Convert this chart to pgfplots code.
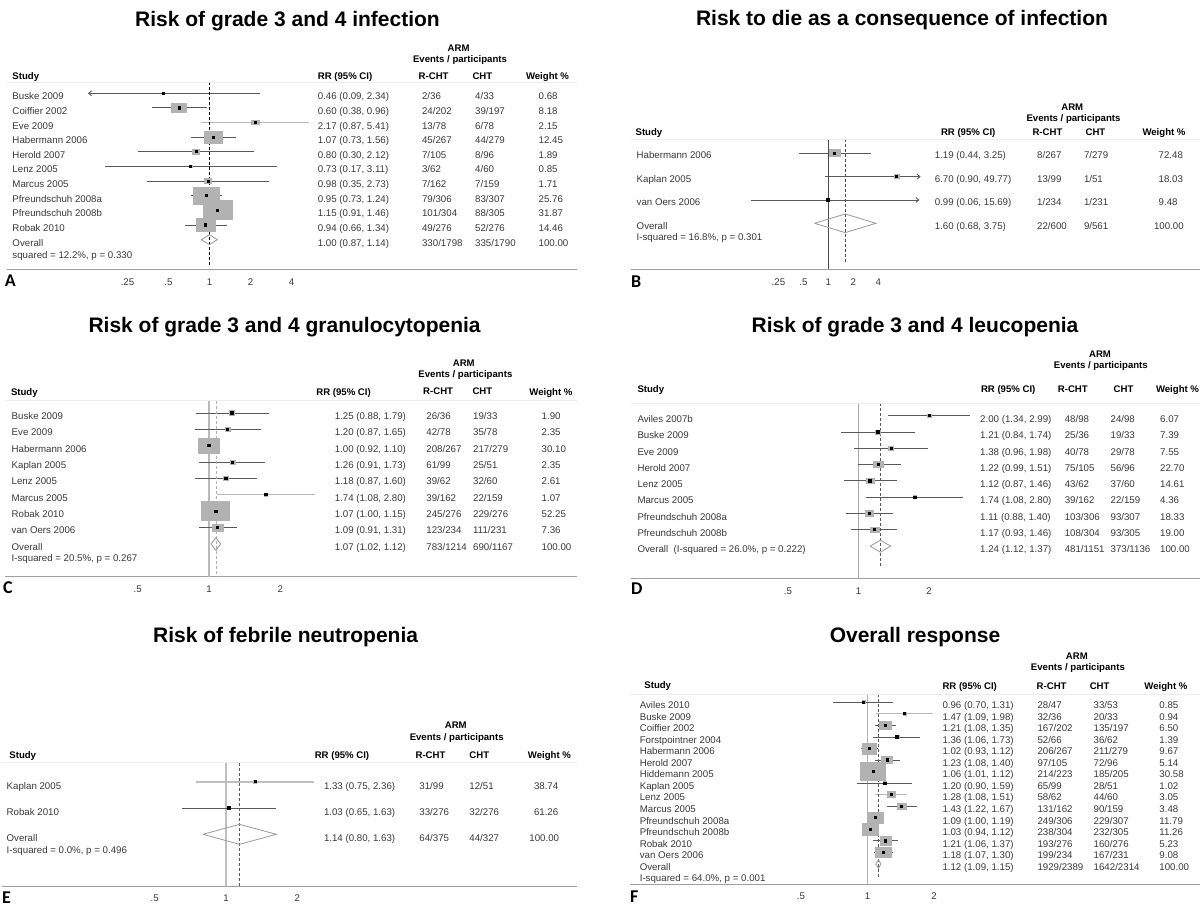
\documentclass[border=0pt]{standalone}
\usepackage{fontspec}
\setmainfont{Liberation Sans}
\newfontfamily\letterfont{Carlito}
\usepackage{pgfplots}
\pgfplotsset{compat=1.18}
\usetikzlibrary{arrows.meta}
\definecolor{txt}{gray}{0.22}
\definecolor{boxgray}{gray}{0.70}
\definecolor{cigray}{gray}{0.35}
\tikzset{
  tx/.style={anchor=west, inner sep=0pt, text height=6.9pt, text depth=0pt, font=\fontsize{9.7}{11}\selectfont, text=txt},
  hd/.style={tx, font=\fontsize{9.6}{11}\selectfont\bfseries, text=black},
  hdc/.style={hd, anchor=center},
  ttl/.style={anchor=base, inner sep=0pt, font=\fontsize{21}{25}\selectfont\bfseries},
  plet/.style={anchor=west, inner sep=0pt, text height=11.6pt, text depth=0pt, font=\letterfont\fontsize{18}{20}\selectfont\bfseries},
  cil/.style={draw=cigray, line width=0.9pt},
  arr/.style={-{Straight Barb[length=3pt,width=5pt]}},
  hline/.style={draw=gray!15, line width=1pt},
  ticklab/.style={anchor=center, yshift=-12.5pt, inner sep=0pt, text height=6.9pt, text depth=0pt, font=\fontsize{9.7}{11}\selectfont, text=txt}
}
% #1 line opts, #2 est, #3 lo, #4 hi, #5 y, #6 half width, #7 half height
\newcommand\study[7][]{%
  \addplot[boxgray, only marks, mark=square*, mark size=#7pt, mark options={xscale=#6/#7, fill=boxgray, draw=boxgray, line width=0pt}] coordinates {(#2,#5)};
  \addplot[cil,#1] coordinates {(#3,#5) (#4,#5)};
  \addplot[black, only marks, mark=square*, mark size=1.1pt, mark options={fill=black, draw=black, line width=0pt}] coordinates {(#2,#5)};
}
\newcommand\trow[6]{%
  \node[tx] at (\cN pt,-#1pt) {#2};
  \node[tx] at (\cR pt,-#1pt) {#3};
  \node[tx] at (\cA pt,-#1pt) {#4};
  \node[tx] at (\cB pt,-#1pt) {#5};
  \node[tx] at (\cW pt,-#1pt) {#6};}
\begin{document}
\begin{tikzpicture}
\useasboundingbox (0,0) rectangle (1200pt,-910pt);

%%%%%%%%%%%%%%%% Panel A
\begin{axis}[scale only axis, xmode=log, axis x line*=bottom, axis y line=none, anchor=south west,
  x axis line style={draw=gray!75, line width=1pt}, tick style={draw=none}, xticklabel style={ticklab},
  at={(7pt,-269.3pt)}, width=570pt, height=187pt, xmin=0.0326, xmax=499, ymin=-13.022, ymax=-0.2486,
  xtick={0.25,0.5,1,2,4}, xticklabels={.25,.5,1,2,4}]
\study{0.60}{0.38}{0.96}{-2}{7.5}{4.85}
\study[draw=gray!55, line width=1.3pt]{2.17}{0.87}{5.41}{-3}{4}{2.35}
\study{1.07}{0.73}{1.56}{-4}{9.15}{6.15}
\study{0.80}{0.30}{2.12}{-5}{3.65}{2.15}
\study{0.73}{0.17}{3.11}{-6}{1.85}{1.35}
\study{0.98}{0.35}{2.73}{-7}{3.5}{2.15}
\study{0.95}{0.73}{1.24}{-8}{13}{8.5}
\study{1.15}{0.91}{1.46}{-9}{14.35}{9.5}
\study{0.94}{0.66}{1.34}{-10}{9.65}{6.5}
\study[arr]{0.46}{2.34}{0.128}{-1}{1}{1}
\addplot[black, line width=0.8pt, dash pattern=on 3pt off 2pt] coordinates {(1,-0.2486) (1,-12.8)};
\addplot[draw=gray!80, line width=0.8pt] coordinates {(0.87,-11) (1.00,-10.66) (1.14,-11) (1.00,-11.34) (0.87,-11)};
\end{axis}
\draw[hline] (7pt,-82.3pt) -- (577pt,-82.3pt);
\node[ttl] at (287.5pt,-26.5pt) {Risk of grade 3 and 4 infection};
\node[hdc] at (458.6pt,-47.7pt) {ARM};
\node[hdc] at (460pt,-59.3pt) {Events / participants};
\node[hd] at (12.3pt,-76pt) {Study};
\node[hd] at (317.7pt,-76pt) {RR (95\% CI)};
\node[hd] at (418.5pt,-76pt) {R-CHT};
\node[hd] at (472.3pt,-76pt) {CHT};
\node[hd] at (525.8pt,-76pt) {Weight \%};
\def\cN{12.3}\def\cR{317.7}\def\cA{421.9}\def\cB{475}\def\cW{538.5}
\trow{96.3}{Buske 2009}{0.46 (0.09, 2.34)}{2/36}{4/33}{0.68}
\trow{110.9}{Coiffier 2002}{0.60 (0.38, 0.96)}{24/202}{39/197}{8.18}
\trow{125.6}{Eve 2009}{2.17 (0.87, 5.41)}{13/78}{6/78}{2.15}
\trow{140.2}{Habermann 2006}{1.07 (0.73, 1.56)}{45/267}{44/279}{12.45}
\trow{154.9}{Herold 2007}{0.80 (0.30, 2.12)}{7/105}{8/96}{1.89}
\trow{169.5}{Lenz 2005}{0.73 (0.17, 3.11)}{3/62}{4/60}{0.85}
\trow{184.1}{Marcus 2005}{0.98 (0.35, 2.73)}{7/162}{7/159}{1.71}
\trow{198.8}{Pfreundschuh 2008a}{0.95 (0.73, 1.24)}{79/306}{83/307}{25.76}
\trow{213.4}{Pfreundschuh 2008b}{1.15 (0.91, 1.46)}{101/304}{88/305}{31.87}
\trow{228.1}{Robak 2010}{0.94 (0.66, 1.34)}{49/276}{52/276}{14.46}
\trow{242.7}{Overall}{1.00 (0.87, 1.14)}{330/1798}{335/1790}{100.00}
\node[tx] at (12.3pt,-254.7pt) {squared = 12.2\%, p = 0.330};
\node[plet] at (4.6pt,-281pt) {A};

%%%%%%%%%%%%%%%% Panel B
\begin{axis}[scale only axis, xmode=log, axis x line*=bottom, axis y line=none, anchor=south west,
  x axis line style={draw=gray!75, line width=1pt}, tick style={draw=none}, xticklabel style={ticklab},
  at={(631pt,-269.3pt)}, width=569pt, height=130pt, xmin=0.004163, xmax=30530, ymin=-5.972, ymax=-0.400,
  xtick={0.25,0.5,1,2,4}, xticklabels={.25,.5,1,2,4}]
\study{1.19}{0.44}{3.25}{-1}{5.5}{3.65}
\study[arr]{6.70}{0.90}{13.0}{-2}{2.35}{1.85}
\study[arr]{0.99}{0.116}{12.6}{-3}{1}{1}
\addplot[gray!60!black, line width=0.9pt] coordinates {(1,-0.4) (1,-5.972)};
\addplot[gray!60!black, line width=0.7pt, dash pattern=on 3pt off 2pt] coordinates {(1.60,-0.4) (1.60,-5.646)};
\addplot[draw=gray!80, line width=0.8pt] coordinates {(0.68,-4) (1.60,-3.6) (3.75,-4) (1.60,-4.4) (0.68,-4)};
\end{axis}
\draw[hline] (631pt,-139.3pt) -- (1200pt,-139.3pt);
\node[ttl] at (902pt,-25pt) {Risk to die as a consequence of infection};
\node[hdc] at (1072.3pt,-106.7pt) {ARM};
\node[hdc] at (1073.5pt,-118pt) {Events / participants};
\node[hd] at (635.4pt,-132.3pt) {Study};
\node[hd] at (940.8pt,-132.3pt) {RR (95\% CI)};
\node[hd] at (1032.3pt,-132.3pt) {R-CHT};
\node[hd] at (1085.4pt,-132.3pt) {CHT};
\node[hd] at (1142.3pt,-132.3pt) {Weight \%};
\def\cN{636.5}\def\cR{934.6}\def\cA{1037}\def\cB{1083.8}\def\cW{1158.5}
\trow{155.3}{Habermann 2006}{1.19 (0.44, 3.25)}{8/267}{7/279}{72.48}
\trow{179}{Kaplan 2005}{6.70 (0.90, 49.77)}{13/99}{1/51}{18.03}
\trow{202.3}{van Oers 2006}{0.99 (0.06, 15.69)}{1/234}{1/231}{9.48}
\def\cW{1153.8}
\trow{225.7}{Overall}{1.60 (0.68, 3.75)}{22/600}{9/561}{100.00}
\node[tx] at (636.5pt,-237.3pt) {I-squared = 16.8\%, p = 0.301};
\node[plet] at (631pt,-282pt) {B};

%%%%%%%%%%%%%%%% Panel C
\begin{axis}[scale only axis, xmode=log, axis x line*=bottom, axis y line=none, anchor=south west,
  x axis line style={draw=gray!75, line width=1pt}, tick style={draw=none}, xticklabel style={ticklab},
  at={(4.6pt,-576.7pt)}, width=572.4pt, height=176pt, xmin=0.1371, xmax=35.78, ymin=-10.997, ymax=-0.2489,
  xtick={0.5,1,2}, xticklabels={.5,1,2}]
\addplot[gray!55, line width=1.5pt] coordinates {(1,-0.2489) (1,-10.997)};
\study{1.25}{0.88}{1.79}{-1}{2.65}{2.15}
\study{1.20}{0.87}{1.65}{-2}{2.5}{2}
\study{1.00}{0.92}{1.10}{-3}{10.85}{7.35}
\study{1.26}{0.91}{1.73}{-4}{2.65}{2}
\study{1.18}{0.87}{1.60}{-5}{2.65}{2.15}
\study[draw=gray!55]{1.74}{1.08}{2.80}{-6}{1.85}{1.5}
\study{1.07}{1.00}{1.15}{-7}{14}{9.35}
\study{1.09}{0.91}{1.31}{-8}{5.5}{3.5}
\addplot[gray!60, line width=0.7pt, dash pattern=on 3pt off 2pt] coordinates {(1.07,-0.2489) (1.07,-10.997)};
\addplot[draw=gray!80, line width=0.8pt] coordinates {(1.02,-9) (1.07,-8.615) (1.12,-9) (1.07,-9.385) (1.02,-9)};
\end{axis}
\draw[hline] (4.6pt,-400.7pt) -- (577pt,-400.7pt);
\node[ttl] at (284.6pt,-332.3pt) {Risk of grade 3 and 4 granulocytopenia};
\node[hdc] at (463.8pt,-362.7pt) {ARM};
\node[hdc] at (465.4pt,-374pt) {Events / participants};
\node[hd] at (10.8pt,-391.7pt) {Study};
\node[hd] at (316.2pt,-391.7pt) {RR (95\% CI)};
\node[hd] at (423pt,-390.7pt) {R-CHT};
\node[hd] at (472.3pt,-390.7pt) {CHT};
\node[hd] at (529.2pt,-391.7pt) {Weight \%};
\def\cN{11.5}\def\cR{334.6}\def\cA{426.2}\def\cB{473}\def\cW{541.5}
\trow{416}{Buske 2009}{1.25 (0.88, 1.79)}{26/36}{19/33}{1.90}
\trow{432.3}{Eve 2009}{1.20 (0.87, 1.65)}{42/78}{35/78}{2.35}
\trow{448.7}{Habermann 2006}{1.00 (0.92, 1.10)}{208/267}{217/279}{30.10}
\trow{465}{Kaplan 2005}{1.26 (0.91, 1.73)}{61/99}{25/51}{2.35}
\trow{481.3}{Lenz 2005}{1.18 (0.87, 1.60)}{39/62}{32/60}{2.61}
\trow{497.7}{Marcus 2005}{1.74 (1.08, 2.80)}{39/162}{22/159}{1.07}
\trow{514.3}{Robak 2010}{1.07 (1.00, 1.15)}{245/276}{229/276}{52.25}
\trow{530.3}{van Oers 2006}{1.09 (0.91, 1.31)}{123/234}{111/231}{7.36}
\trow{546.7}{Overall}{1.07 (1.02, 1.12)}{783/1214}{690/1167}{100.00}
\node[tx] at (11.5pt,-558.3pt) {I-squared = 20.5\%, p = 0.267};
\node[plet] at (3pt,-588pt) {C};

%%%%%%%%%%%%%%%% Panel D
\begin{axis}[scale only axis, xmode=log, axis x line*=bottom, axis y line=none, anchor=south west,
  x axis line style={draw=gray!75, line width=1pt}, tick style={draw=none}, xticklabel style={ticklab},
  at={(630.8pt,-578.3pt)}, width=569.2pt, height=175pt, xmin=0.1069, xmax=28.58, ymin=-10.969, ymax=-0.2397,
  xtick={0.5,1,2}, xticklabels={.5,1,2}]
\addplot[gray!70, line width=1pt] coordinates {(1,-0.2397) (1,-10.969)};
\study{2.00}{1.34}{2.99}{-1}{2}{1.65}
\study{1.21}{0.84}{1.74}{-2}{2.35}{2}
\study{1.38}{0.96}{1.98}{-3}{2.35}{2}
\study{1.22}{0.99}{1.51}{-4}{4.85}{3}
\study{1.12}{0.87}{1.46}{-5}{4}{2.5}
\study{1.74}{1.08}{2.80}{-6}{1.85}{1.5}
\study{1.11}{0.88}{1.40}{-7}{4.15}{2.65}
\study{1.17}{0.93}{1.46}{-8}{4.5}{2.65}
\addplot[gray!70!black, line width=0.7pt, dash pattern=on 3pt off 2pt] coordinates {(1.24,-0.2397) (1.24,-10.2)};
\addplot[draw=gray!80, line width=0.8pt] coordinates {(1.12,-9) (1.24,-8.632) (1.37,-9) (1.24,-9.368) (1.12,-9)};
\end{axis}
\draw[hline] (630.8pt,-403.3pt) -- (1200pt,-403.3pt);
\node[ttl] at (915pt,-332.3pt) {Risk of grade 3 and 4 leucopenia};
\node[hdc] at (1100pt,-354pt) {ARM};
\node[hdc] at (1100.8pt,-365.3pt) {Events / participants};
\node[hd] at (637.3pt,-389pt) {Study};
\node[hd] at (980.8pt,-389pt) {RR (95\% CI)};
\node[hd] at (1057.7pt,-389pt) {R-CHT};
\node[hd] at (1113.5pt,-389pt) {CHT};
\node[hd] at (1155.8pt,-389pt) {Weight \%};
\def\cN{637.3}\def\cR{980}\def\cA{1064.6}\def\cB{1110.4}\def\cW{1160}
\trow{419}{Aviles 2007b}{2.00 (1.34, 2.99)}{48/98}{24/98}{6.07}
\trow{435.3}{Buske 2009}{1.21 (0.84, 1.74)}{25/36}{19/33}{7.39}
\trow{451.7}{Eve 2009}{1.38 (0.96, 1.98)}{40/78}{29/78}{7.55}
\trow{467.7}{Herold 2007}{1.22 (0.99, 1.51)}{75/105}{56/96}{22.70}
\trow{484}{Lenz 2005}{1.12 (0.87, 1.46)}{43/62}{37/60}{14.61}
\trow{500.3}{Marcus 2005}{1.74 (1.08, 2.80)}{39/162}{22/159}{4.36}
\trow{516.7}{Pfreundschuh 2008a}{1.11 (0.88, 1.40)}{103/306}{93/307}{18.33}
\trow{533}{Pfreundschuh 2008b}{1.17 (0.93, 1.46)}{108/304}{93/305}{19.00}
\trow{549.3}{Overall\ \ (I-squared = 26.0\%, p = 0.222)}{1.24 (1.12, 1.37)}{481/1151}{373/1136}{100.00}
\node[plet] at (631pt,-589pt) {D};

%%%%%%%%%%%%%%%% Panel E
\begin{axis}[scale only axis, xmode=log, axis x line*=bottom, axis y line=none, anchor=south west,
  x axis line style={draw=gray!75, line width=1pt}, tick style={draw=none}, xticklabel style={ticklab},
  at={(2pt,-886pt)}, width=575pt, height=123.3pt, xmin=0.1135, xmax=30.25, ymin=-4.966, ymax=-0.2776,
  xtick={0.5,1,2}, xticklabels={.5,1,2}]
\addplot[gray!50, line width=1.8pt] coordinates {(1,-0.2776) (1,-4.966)};
\study[draw=gray!50, line width=1.6pt]{1.33}{0.75}{2.36}{-1}{1.5}{1.3}
\study{1.03}{0.65}{1.63}{-2}{1.5}{1.3}
\addplot[gray!70!black, line width=0.7pt, dash pattern=on 3pt off 2pt] coordinates {(1.14,-0.2776) (1.14,-4.966)};
\addplot[draw=gray!80, line width=0.8pt] coordinates {(0.80,-3) (1.14,-2.62) (1.63,-3) (1.14,-3.38) (0.80,-3)};
\end{axis}
\draw[hline] (2pt,-762.7pt) -- (577pt,-762.7pt);
\node[ttl] at (285.6pt,-642.3pt) {Risk of febrile neutropenia};
\node[hdc] at (455.8pt,-725pt) {ARM};
\node[hdc] at (456.7pt,-736.7pt) {Events / participants};
\node[hd] at (9.2pt,-754.7pt) {Study};
\node[hd] at (314.6pt,-754.7pt) {RR (95\% CI)};
\node[hd] at (415.4pt,-754.7pt) {R-CHT};
\node[hd] at (469.2pt,-754.7pt) {CHT};
\node[hd] at (527.7pt,-754.7pt) {Weight \%};
\def\cN{6.5}\def\cR{323.8}\def\cA{419.2}\def\cB{469.2}\def\cW{533.8}
\trow{786}{Kaplan 2005}{1.33 (0.75, 2.36)}{31/99}{12/51}{38.74}
\trow{812.3}{Robak 2010}{1.03 (0.65, 1.63)}{33/276}{32/276}{61.26}
\def\cW{529.2}
\trow{838.3}{Overall}{1.14 (0.80, 1.63)}{64/375}{44/327}{100.00}
\node[tx] at (6.5pt,-850pt) {I-squared = 0.0\%, p = 0.496};
\node[plet] at (2pt,-898pt) {E};

%%%%%%%%%%%%%%%% Panel F
\begin{axis}[scale only axis, xmode=log, axis x line*=bottom, axis y line=none, anchor=south west,
  x axis line style={draw=gray!75, line width=1pt}, tick style={draw=none}, xticklabel style={ticklab},
  at={(630pt,-884pt)}, width=570pt, height=189.7pt, xmin=0.08443, xmax=31.82, ymin=-16.73, ymax=-0.3074,
  xtick={0.5,1,2}, xticklabels={.5,1,2}]
\addplot[gray!60, line width=1.2pt] coordinates {(1,-0.3074) (1,-16.73)};
\study{0.96}{0.70}{1.31}{-1}{1.5}{1.5}
\study[draw=gray!55]{1.47}{1.09}{1.98}{-2}{1.5}{1.5}
\study{1.21}{1.08}{1.35}{-3}{5.85}{3.65}
\study{1.36}{1.06}{1.73}{-4}{2}{1.85}
\study{1.02}{0.93}{1.12}{-5}{7.35}{5.5}
\study{1.23}{1.08}{1.40}{-6}{5.5}{3.85}
\study{1.06}{1.01}{1.12}{-7}{12.65}{8.65}
\study{1.20}{0.90}{1.59}{-8}{1.5}{1.5}
\study[draw=gray!55]{1.28}{1.08}{1.51}{-9}{4}{2.85}
\study{1.43}{1.22}{1.67}{-10}{4.65}{3}
\study{1.09}{1.00}{1.19}{-11}{8.15}{5.5}
\study{1.03}{0.94}{1.12}{-12}{7.65}{5.65}
\study{1.21}{1.06}{1.37}{-13}{5.5}{4.15}
\study{1.18}{1.07}{1.30}{-14}{7.85}{4.65}
\addplot[gray!70!black, line width=0.7pt, dash pattern=on 3pt off 2pt] coordinates {(1.12,-0.3074) (1.12,-16.1)};
\addplot[draw=gray!80, line width=0.8pt] coordinates {(1.09,-15) (1.12,-14.64) (1.15,-15) (1.12,-15.36) (1.09,-15)};
\end{axis}
\draw[hline] (630pt,-694.3pt) -- (1200pt,-694.3pt);
\node[ttl] at (915pt,-642.3pt) {Overall response};
\node[hdc] at (1076.9pt,-655.7pt) {ARM};
\node[hdc] at (1077.9pt,-667.3pt) {Events / participants};
\node[hd] at (644.2pt,-684.7pt) {Study};
\node[hd] at (942.3pt,-686.3pt) {RR (95\% CI)};
\node[hd] at (1036.5pt,-686.3pt) {R-CHT};
\node[hd] at (1089.6pt,-686.3pt) {CHT};
\node[hd] at (1144.2pt,-686.3pt) {Weight \%};
\def\cN{639.6}\def\cR{942.3}\def\cA{1037.3}\def\cB{1093.5}\def\cW{1159.2}
\trow{705.3}{Aviles 2010}{0.96 (0.70, 1.31)}{28/47}{33/53}{0.85}
\trow{716.8}{Buske 2009}{1.47 (1.09, 1.98)}{32/36}{20/33}{0.94}
\trow{728.4}{Coiffier 2002}{1.21 (1.08, 1.35)}{167/202}{135/197}{6.50}
\trow{739.9}{Forstpointner 2004}{1.36 (1.06, 1.73)}{52/66}{36/62}{1.39}
\trow{751.4}{Habermann 2006}{1.02 (0.93, 1.12)}{206/267}{211/279}{9.67}
\trow{763.0}{Herold 2007}{1.23 (1.08, 1.40)}{97/105}{72/96}{5.14}
\trow{774.5}{Hiddemann 2005}{1.06 (1.01, 1.12)}{214/223}{185/205}{30.58}
\trow{786.0}{Kaplan 2005}{1.20 (0.90, 1.59)}{65/99}{28/51}{1.02}
\trow{797.5}{Lenz 2005}{1.28 (1.08, 1.51)}{58/62}{44/60}{3.05}
\trow{809.1}{Marcus 2005}{1.43 (1.22, 1.67)}{131/162}{90/159}{3.48}
\trow{820.6}{Pfreundschuh 2008a}{1.09 (1.00, 1.19)}{249/306}{229/307}{11.79}
\trow{832.1}{Pfreundschuh 2008b}{1.03 (0.94, 1.12)}{238/304}{232/305}{11.26}
\trow{843.7}{Robak 2010}{1.21 (1.06, 1.37)}{193/276}{160/276}{5.23}
\trow{855.2}{van Oers 2006}{1.18 (1.07, 1.30)}{199/234}{167/231}{9.08}
\trow{866.7}{Overall}{1.12 (1.09, 1.15)}{1929/2389}{1642/2314}{100.00}
\node[tx] at (639.6pt,-878.3pt) {I-squared = 64.0\%, p = 0.001};
\node[plet] at (630pt,-897pt) {F};
\end{tikzpicture}
\end{document}
